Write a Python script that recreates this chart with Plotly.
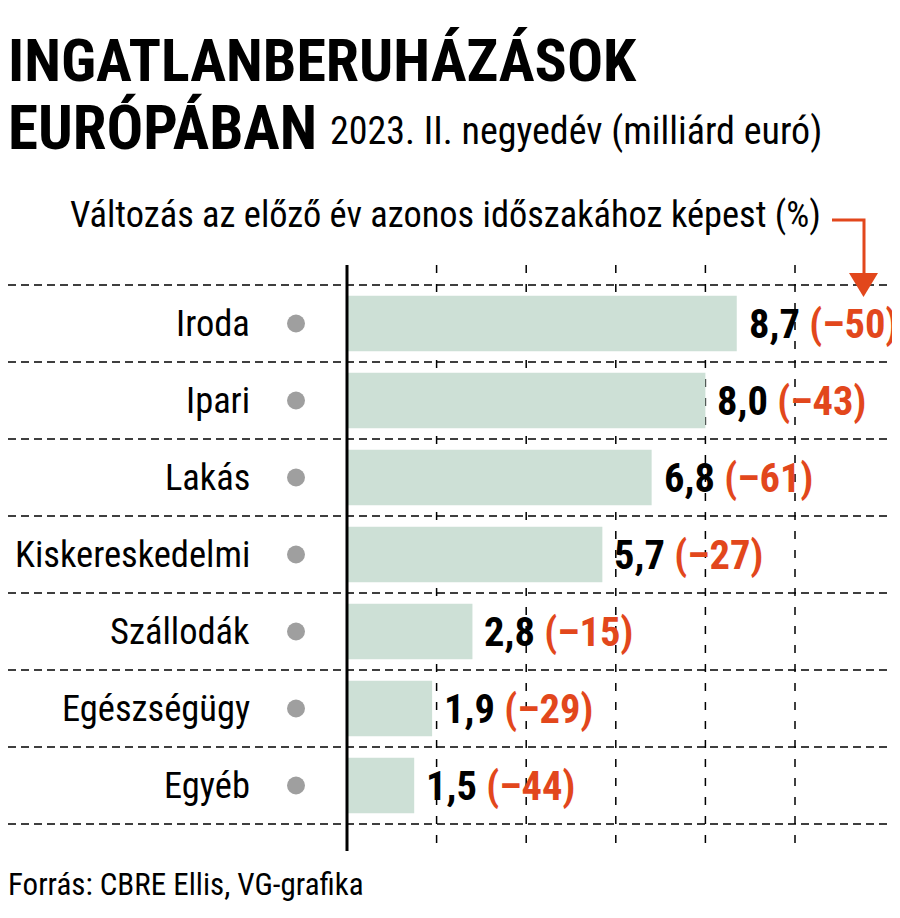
import plotly.graph_objects as go

categories = ["Iroda", "Ipari", "Lakás", "Kiskereskedelmi", "Szállodák", "Egészségügy", "Egyéb"]
values = [8.7, 8.0, 6.8, 5.7, 2.8, 1.9, 1.5]
changes = ["–50", "–43", "–61", "–27", "–15", "–29", "–44"]
grid_ticks = [2, 4, 6, 8, 10]

# page body has an 8px margin -> figure drawn 8px right/down; compensate
OFF = 8
W, H = 900 - OFF, 918 - OFF
PX_PER_UNIT = 44.8
X0_PX = 347 - OFF
ROW_PX = 77
TOP_LINE_PX = 285 - OFF

FONT = "Roboto Condensed, Roboto, sans-serif"
ORANGE = "#e2471c"
BAR = "#cde0d6"

x_range = [-X0_PX / PX_PER_UNIT, (W - X0_PX) / PX_PER_UNIT]
y_top = -0.5 - TOP_LINE_PX / ROW_PX
y_bot = 6.5 + (H - (TOP_LINE_PX + 7 * ROW_PX)) / ROW_PX


def ypix(p):  # reference pixel y -> y data
    return -0.5 + (p - OFF - TOP_LINE_PX) / ROW_PX


def xdat(p):  # reference pixel x -> x data
    return (p - OFF - X0_PX) / PX_PER_UNIT


def px(p):  # reference pixel x -> paper
    return (p - OFF) / W


def py(p):  # reference pixel y -> paper
    return 1 - (p - OFF) / H


fig = go.Figure()
fig.add_trace(go.Bar(
    y=categories, x=values, orientation="h",
    marker=dict(color=BAR, line=dict(width=0)), width=0.72,
    hoverinfo="skip",
))
fig.add_trace(go.Scatter(
    y=categories, x=[xdat(296)] * len(categories), mode="markers",
    marker=dict(size=18, color="#9f9f9f"), hoverinfo="skip",
))

shapes = []
for i in range(len(categories) + 1):
    shapes.append(dict(type="line", xref="paper", yref="y", x0=0, x1=1,
                       y0=i - 0.5, y1=i - 0.5,
                       line=dict(color="black", width=1.5, dash="8px,5px"), layer="below"))
for t in grid_ticks:
    shapes.append(dict(type="line", xref="x", yref="y", x0=t, x1=t,
                       y0=ypix(265), y1=ypix(846),
                       line=dict(color="black", width=1.5, dash="8px,11px"), layer="below"))
shapes.append(dict(type="line", xref="x", yref="y", x0=0, x1=0,
                   y0=ypix(265), y1=ypix(851),
                   line=dict(color="black", width=3), layer="above"))
shapes.append(dict(type="path", xref="paper", yref="paper",
                   path=f"M {px(832)},{py(220)} L {px(864)},{py(220)} L {px(864)},{py(276)}",
                   line=dict(color=ORANGE, width=3)))
shapes.append(dict(type="path", xref="paper", yref="paper",
                   path=f"M {px(849)},{py(273)} L {px(878)},{py(273)} L {px(863.5)},{py(297)} Z",
                   fillcolor=ORANGE, line=dict(color=ORANGE, width=0)))

annotations = []
for c, v, ch in zip(categories, values, changes):
    annotations.append(dict(x=xdat(252), y=c, xref="x", yref="y", text=c,
                            xanchor="right", yanchor="middle", showarrow=False,
                            font=dict(family=FONT, size=36.5, color="black")))
    label = f"{v:.1f}".replace(".", ",")
    annotations.append(dict(x=v, y=c, xref="x", yref="y",
                            text=f"<b>{label}</b> <b><span style='color:{ORANGE}'>({ch})</span></b>",
                            xanchor="left", yanchor="middle", xshift=10, showarrow=False,
                            font=dict(family=FONT, size=40.5, color="black")))

annotations += [
    dict(x=px(6), y=py(60), xref="paper", yref="paper", text="<b>INGATLANBERUHÁZÁSOK</b>",
         xanchor="left", yanchor="middle", showarrow=False,
         font=dict(family=FONT, size=60, color="black")),
    dict(x=px(6), y=py(128), xref="paper", yref="paper", text="<b>EURÓPÁBAN</b>",
         xanchor="left", yanchor="middle", showarrow=False,
         font=dict(family=FONT, size=61, color="black")),
    dict(x=px(328), y=py(131), xref="paper", yref="paper", text="2023. II. negyedév (milliárd euró)",
         xanchor="left", yanchor="middle", showarrow=False,
         font=dict(family=FONT, size=38, color="black")),
    dict(x=px(823), y=py(215), xref="paper", yref="paper",
         text="Változás az előző év azonos időszakához képest (%)",
         xanchor="right", yanchor="middle", showarrow=False,
         font=dict(family=FONT, size=36.4, color="black")),
    dict(x=px(6), y=py(884), xref="paper", yref="paper", text="Forrás: CBRE Ellis, VG-grafika",
         xanchor="left", yanchor="middle", showarrow=False,
         font=dict(family=FONT, size=31, color="black")),
]

fig.update_layout(
    width=W, height=H, margin=dict(l=0, r=0, t=0, b=0),
    paper_bgcolor="white", plot_bgcolor="white",
    showlegend=False, shapes=shapes, annotations=annotations,
    xaxis=dict(range=x_range, visible=False, fixedrange=True),
    yaxis=dict(range=[y_bot, y_top], visible=False, type="category",
               categoryorder="array", categoryarray=categories, fixedrange=True),
    font=dict(family=FONT),
)
fig.write_html("out.html")
